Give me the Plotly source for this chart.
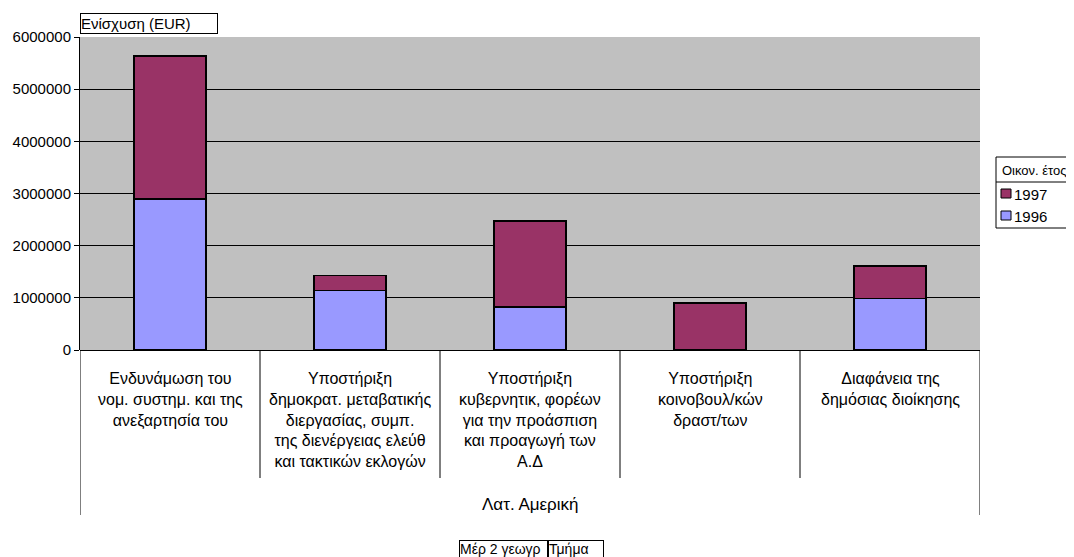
import plotly.graph_objects as go

categories = [
    "Ενδυνάμωση του<br>νομ. συστημ. και της<br>ανεξαρτησία του",
    "Υποστήριξη<br>δημοκρατ. μεταβατικής<br>διεργασίας, συμπ.<br>της διενέργειας ελεύθ<br>και τακτικών εκλογών",
    "Υποστήριξη<br>κυβερνητικ, φορέων<br>για την προάσπιση<br>και προαγωγή των<br>Α.Δ",
    "Υποστήριξη<br>κοινοβουλ/κών<br>δραστ/των",
    "Διαφάνεια της<br>δημόσιας διοίκησης",
]
values_1996 = [2890000, 1140000, 825000, 0, 985000]
values_1997 = [2745000, 290000, 1645000, 900000, 630000]
y_ticks = [0, 1000000, 2000000, 3000000, 4000000, 5000000, 6000000]
group_label = "Λατ. Αμερική"
axis_title = "Ενίσχυση (EUR)"
legend_title = "Οικον. έτος"
field_buttons = ["Μέρ 2 γεωγρ", "Τμήμα"]

COLOR_1996 = "#9999FF"
COLOR_1997 = "#993366"
FONT = "Liberation Sans, Arial, sans-serif"
x_idx = list(range(len(categories)))

W, H = 1074, 557
L, T = 72, 29
PW, PH = 900, 313
R, B = W - L - PW, H - T - PH

# the page adds an 8px body margin; positions below are given in screen px
OFF = 8


def xp(sx):
    return (sx - OFF - L) / PW


def yp(sy):
    return (T + PH - (sy - OFF)) / PH


fig = go.Figure()
fig.add_trace(go.Bar(
    x=x_idx, y=values_1996, name="1996", width=0.4, showlegend=False,
    marker=dict(color=COLOR_1996, line=dict(color="black", width=1.5)),
))
fig.add_trace(go.Bar(
    x=x_idx, y=values_1997, name="1997", width=0.4, showlegend=False,
    marker=dict(color=COLOR_1997, line=dict(color="black", width=1.5)),
))

fig.update_layout(
    width=W, height=H,
    barmode="stack",
    plot_bgcolor="#C0C0C0",
    paper_bgcolor="white",
    margin=dict(l=L, r=R, t=T, b=B, autoexpand=False),
    font=dict(family=FONT, size=14, color="black"),
    showlegend=False,
    xaxis=dict(
        range=[-0.5, 4.5], showticklabels=False, showgrid=False,
        zeroline=False, showline=False, ticks="", fixedrange=True,
    ),
    yaxis=dict(
        range=[0, 6000000], tickvals=y_ticks,
        ticktext=[str(v) for v in y_ticks],
        showgrid=True, gridcolor="black", gridwidth=1,
        zeroline=True, zerolinecolor="black", zerolinewidth=1,
        showline=True, linecolor="black", linewidth=1,
        ticks="outside", ticklen=5, tickcolor="black",
        tickfont=dict(size=15), fixedrange=True,
    ),
)

shapes = []
for i in range(len(categories) - 1):
    shapes.append(dict(type="line", xref="x", yref="paper",
                       x0=i + 0.5, x1=i + 0.5, y0=0, y1=yp(478),
                       line=dict(color="black", width=1)))
for xv in (-0.5, len(categories) - 0.5):
    shapes.append(dict(type="line", xref="x", yref="paper",
                       x0=xv, x1=xv, y0=0, y1=yp(515),
                       line=dict(color="black", width=1)))
# legend box
shapes.append(dict(type="rect", xref="paper", yref="paper",
                   x0=xp(996), x1=xp(1090), y0=yp(228), y1=yp(157),
                   fillcolor="white", line=dict(color="black", width=1)))
shapes.append(dict(type="line", xref="paper", yref="paper",
                   x0=xp(996), x1=xp(1090), y0=yp(182), y1=yp(182),
                   line=dict(color="black", width=1)))
legend_items = [("1997", COLOR_1997, 189, 198), ("1996", COLOR_1996, 211, 220)]
for name, col, y0, y1 in legend_items:
    shapes.append(dict(type="rect", xref="paper", yref="paper",
                       x0=xp(1001), x1=xp(1011), y0=yp(y1), y1=yp(y0),
                       fillcolor=col, line=dict(color="black", width=1)))
fig.update_layout(shapes=shapes)

annotations = []
for i, c in enumerate(categories):
    annotations.append(dict(
        x=i, y=yp(368), xref="x", yref="paper",
        text=c, showarrow=False, xanchor="center", yanchor="top",
        align="center", font=dict(size=16),
    ))
annotations.append(dict(
    x=2, y=yp(505), xref="x", yref="paper", text=group_label,
    showarrow=False, xanchor="center", yanchor="middle", font=dict(size=17),
))
annotations.append(dict(
    x=xp(80), y=yp(34), xref="paper", yref="paper", text=axis_title,
    showarrow=False, xanchor="left", yanchor="bottom", align="left",
    bgcolor="white", bordercolor="black", borderwidth=1, borderpad=0,
    width=136, height=19, font=dict(size=15),
))
annotations.append(dict(
    x=xp(1000), y=yp(170), xref="paper", yref="paper", text=legend_title,
    showarrow=False, xanchor="left", yanchor="middle", font=dict(size=13),
))
for name, col, y0, y1 in legend_items:
    annotations.append(dict(
        x=xp(1012), y=yp((y0 + y1) / 2 + 1), xref="paper", yref="paper",
        text=name, showarrow=False, xanchor="left", yanchor="middle",
        font=dict(size=15),
    ))
annotations.append(dict(
    x=xp(459), y=yp(540), xref="paper", yref="paper",
    text=field_buttons[0], showarrow=False, xanchor="left", yanchor="top",
    align="left", bordercolor="black", borderwidth=1, borderpad=0,
    width=87, height=24, valign="top", font=dict(size=14),
))
annotations.append(dict(
    x=xp(548), y=yp(540), xref="paper", yref="paper",
    text=field_buttons[1], showarrow=False, xanchor="left", yanchor="top",
    align="left", bordercolor="black", borderwidth=1, borderpad=0,
    width=54, height=24, valign="top", font=dict(size=14),
))
fig.update_layout(annotations=annotations)

fig.write_html("out.html")
